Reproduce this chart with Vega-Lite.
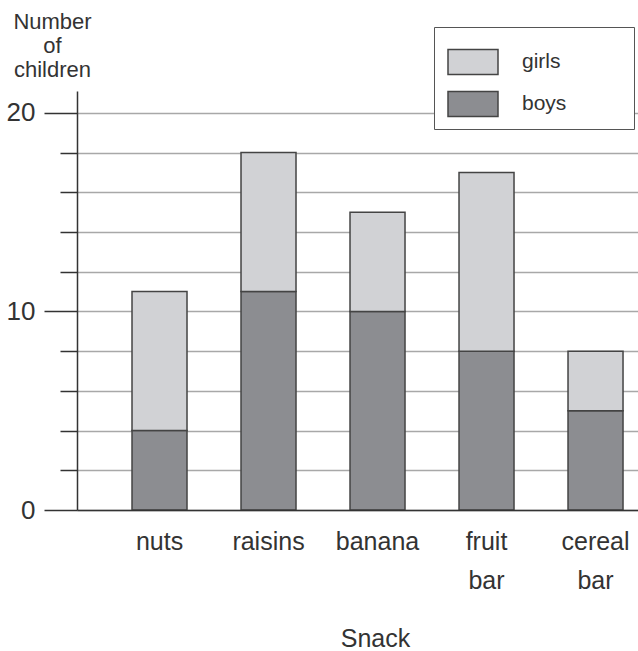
{
  "$schema": "https://vega.github.io/schema/vega-lite/v6.json",
  "width": 561,
  "height": 419,
  "autosize": {"type": "none"},
  "padding": {"left": 77, "top": 91, "right": 0, "bottom": 141},
  "background": "white",
  "config": {"view": {"stroke": null}},
  "data": {
    "values": [
      {"snack": "nuts", "group": "boys", "count": 4, "ord": 0},
      {"snack": "nuts", "group": "girls", "count": 7, "ord": 1},
      {"snack": "raisins", "group": "boys", "count": 11, "ord": 0},
      {"snack": "raisins", "group": "girls", "count": 7, "ord": 1},
      {"snack": "banana", "group": "boys", "count": 10, "ord": 0},
      {"snack": "banana", "group": "girls", "count": 5, "ord": 1},
      {"snack": "fruit bar", "group": "boys", "count": 8, "ord": 0},
      {"snack": "fruit bar", "group": "girls", "count": 9, "ord": 1},
      {"snack": "cereal bar", "group": "boys", "count": 5, "ord": 0},
      {"snack": "cereal bar", "group": "girls", "count": 3, "ord": 1}
    ]
  },
  "mark": {"type": "bar", "stroke": "#444", "strokeWidth": 1.5},
  "encoding": {
    "x": {
      "field": "snack",
      "type": "nominal",
      "sort": ["nuts", "raisins", "banana", "fruit bar", "cereal bar"],
      "scale": {"paddingInner": 0.4954, "paddingOuter": 0.321, "align": 0.786},
      "axis": {
        "title": "Snack",
        "titleFont": "Liberation Sans",
        "titleFontSize": 25,
        "titleFontWeight": "normal",
        "titleColor": "#333",
        "titleX": 298,
        "titleY": 136,
        "titleAlign": "center",
        "titleBaseline": "alphabetic",
        "labelFont": "Liberation Sans",
        "labelFontSize": 25,
        "labelColor": "#333",
        "labelAngle": 0,
        "labelPadding": 19,
        "labelExpr": "split(datum.label, ' ')",
        "labelLineHeight": 39,
        "ticks": false,
        "domainColor": "#333",
        "domainWidth": 1.5,
        "zindex": 1
      }
    },
    "y": {
      "field": "count",
      "type": "quantitative",
      "stack": "zero",
      "scale": {"domain": [0, 21.1], "nice": false},
      "axis": {
        "title": ["Number", "of", "children"],
        "titleAngle": 0,
        "titleX": -25,
        "titleY": -63,
        "titleAlign": "center",
        "titleBaseline": "alphabetic",
        "titleFont": "Liberation Sans",
        "titleFontSize": 22,
        "titleFontWeight": "normal",
        "titleColor": "#333",
        "titleLineHeight": 24,
        "values": [0, 2, 4, 6, 8, 10, 12, 14, 16, 18, 20],
        "labelExpr": "datum.value % 10 === 0 ? datum.label : ''",
        "labelFont": "Liberation Sans",
        "labelFontSize": 26,
        "labelColor": "#333",
        "labelPadding": 9,
        "tickSize": {"condition": {"test": "datum.value % 10 === 0", "value": 33}, "value": 17},
        "tickColor": "#333",
        "tickWidth": 1.5,
        "domainColor": "#333",
        "domainWidth": 1.5,
        "grid": true,
        "gridColor": "#a8a8a8",
        "gridWidth": 1.5
      }
    },
    "color": {
      "field": "group",
      "type": "nominal",
      "scale": {"domain": ["girls", "boys"], "range": ["#d1d2d5", "#8c8d91"]},
      "legend": {
        "title": null,
        "orient": "none",
        "legendX": 357,
        "legendY": -64,
        "padding": 9,
        "fillColor": "white",
        "strokeColor": "#555",
        "symbolType": "M-1,-0.5H1V0.5H-1Z",
        "symbolSize": 2500,
        "symbolOffset": 4,
        "symbolStrokeColor": "#444",
        "symbolStrokeWidth": 1.5,
        "rowPadding": -8,
        "labelFont": "Liberation Sans",
        "labelFontSize": 21,
        "labelColor": "#333",
        "labelOffset": 23,
        "labelExpr": "datum.label + '\u00a0\u00a0\u00a0\u00a0\u00a0\u00a0\u00a0\u00a0\u00a0\u00a0\u200b'"
      }
    },
    "order": {"field": "ord"}
  }
}
